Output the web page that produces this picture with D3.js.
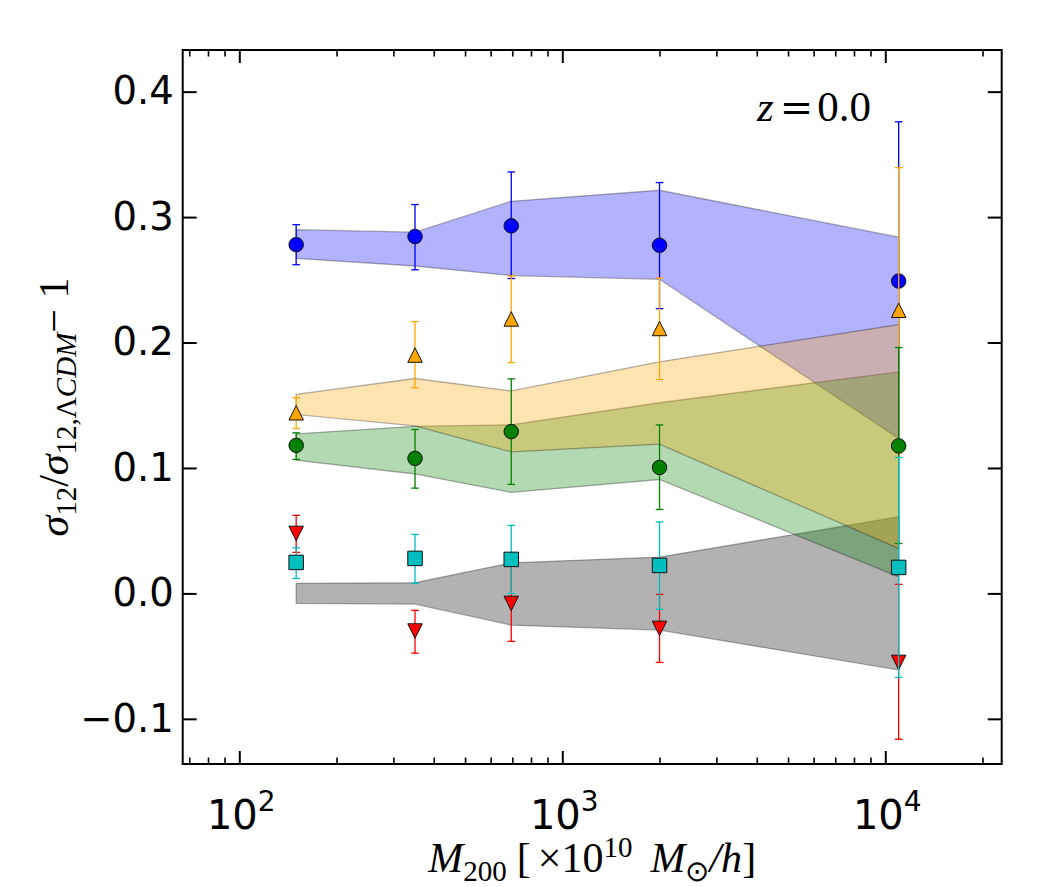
<!DOCTYPE html>
<html>
<head>
<meta charset="utf-8">
<script src="https://cdn.jsdelivr.net/npm/d3@7"></script>
<style>
  body { margin: 0; background: #fff; }
</style>
</head>
<body>
<svg id="chart"></svg>
<script>
// halo mass bins (x10^10 Msun/h)
const masses = [150, 350, 695, 2000, 11000];

// point series: value, upper and lower end of the error bar
const blueY = [0.278, 0.2845, 0.293, 0.2775, 0.249];
const blueHi = [0.294, 0.310, 0.336, 0.3275, 0.376];
const blueLo = [0.262, 0.258, 0.251, 0.227, 0.122];

const orangeY = [0.144, 0.190, 0.2188, 0.2112, 0.2257];
const orangeHi = [0.156, 0.2167, 0.253, 0.2515, 0.3394];
const orangeLo = [0.1315, 0.164, 0.184, 0.1705, 0.112];

const greenY = [0.118, 0.1076, 0.129, 0.1004, 0.1176];
const greenHi = [0.128, 0.1307, 0.171, 0.1343, 0.196];
const greenLo = [0.1068, 0.0839, 0.0869, 0.0669, 0.0398];

const redY = [0.0478, -0.030, -0.008, -0.0279, -0.055];
const redHi = [0.0622, -0.0135, 0.022, -0.0008, 0.0072];
const redLo = [0.0327, -0.0476, -0.0382, -0.055, -0.1163];

const cyanY = [0.0247, 0.0279, 0.0271, 0.0223, 0.0207];
const cyanHi = [0.0363, 0.047, 0.0542, 0.057, 0.1084];
const cyanLo = [0.012, 0.008, 0.0, -0.0127, -0.0669];

// shaded bands (upper / lower edge)
const blueBandUp = [0.290, 0.288, 0.3126, 0.3214, 0.284];
const blueBandLo = [0.267, 0.261, 0.2534, 0.2504, 0.1235];
const greenBandUp = [0.1272, 0.1332, 0.1344, 0.152, 0.1766];
const greenBandLo = [0.1062, 0.0952, 0.0805, 0.0908, 0.0132];
const orangeBandUp = [0.1586, 0.1713, 0.1614, 0.1846, 0.2143];
const orangeBandLo = [0.1426, 0.1336, 0.1128, 0.119, 0.0358];
const grayBandUp = [0.008, 0.0085, 0.0244, 0.029, 0.061];
const grayBandLo = [-0.008, -0.0085, -0.0253, -0.0292, -0.0611];

// ticks
const yTicks = [-0.1, 0.0, 0.1, 0.2, 0.3, 0.4];
const xMajor = [100, 1000, 10000];
const xExp = ["2", "3", "4"];
const xMinor = [70, 80, 90, 200, 300, 400, 500, 600, 700, 800, 900,
  2000, 3000, 4000, 5000, 6000, 7000, 8000, 9000, 20000];

const width = 1055, height = 887;
const plotL = 182.7, plotR = 1001.7, plotT = 50, plotB = 764;

const svg = d3.select("#chart")
    .attr("width", width)
    .attr("height", height);

const x = d3.scaleLog().domain([66.8, 22930]).range([plotL, plotR]);
const y = d3.scaleLinear().domain([-0.136, 0.4332]).range([plotB, plotT]);

// bands
const bands = [
    { up: grayBandUp, lo: grayBandLo, color: "#000000" },
    { up: blueBandUp, lo: blueBandLo, color: "#0000ff" },
    { up: greenBandUp, lo: greenBandLo, color: "#008000" },
    { up: orangeBandUp, lo: orangeBandLo, color: "#ffa500" }
];

const area = d3.area()
    .x(d => x(d.m))
    .y0(d => y(d.lo))
    .y1(d => y(d.up));

bands.forEach(b => {
    const rows = masses.map((m, i) => ({ m: m, up: b.up[i], lo: b.lo[i] }));
    svg.append("path")
        .datum(rows)
        .attr("d", area)
        .attr("fill", b.color)
        .attr("fill-opacity", 0.3)
        .attr("stroke", "#000")
        .attr("stroke-opacity", 0.3)
        .attr("stroke-width", 1.3);
});

// point series
const series = [
    { v: blueY, hi: blueHi, lo: blueLo, color: "#0000ff", shape: "circle" },
    { v: orangeY, hi: orangeHi, lo: orangeLo, color: "#ffa500", shape: "up" },
    { v: greenY, hi: greenHi, lo: greenLo, color: "#008000", shape: "circle" },
    { v: redY, hi: redHi, lo: redLo, color: "#ff0000", shape: "down" },
    { v: cyanY, hi: cyanHi, lo: cyanLo, color: "#00bfbf", shape: "square" }
];

const ms = 14.5;   // marker size in px
const cap = 3.8;

function markerPath(shape) {
    const h = ms / 2;
    if (shape === "up") return `M0,${-h}L${h},${h}L${-h},${h}Z`;
    if (shape === "down") return `M0,${h}L${h},${-h}L${-h},${-h}Z`;
    if (shape === "square") return `M${-h},${-h}H${h}V${h}H${-h}Z`;
    return null;
}

series.forEach(s => {
    const rows = masses.map((m, i) => ({ m: m, v: s.v[i], hi: s.hi[i], lo: s.lo[i] }));
    const g = svg.append("g");

    const eb = g.selectAll(".eb").data(rows).enter().append("g")
        .attr("stroke", s.color)
        .attr("stroke-width", 1.3);
    eb.append("line")
        .attr("x1", d => x(d.m)).attr("x2", d => x(d.m))
        .attr("y1", d => y(d.hi)).attr("y2", d => y(d.lo));
    eb.append("line")
        .attr("x1", d => x(d.m) - cap).attr("x2", d => x(d.m) + cap)
        .attr("y1", d => y(d.hi)).attr("y2", d => y(d.hi));
    eb.append("line")
        .attr("x1", d => x(d.m) - cap).attr("x2", d => x(d.m) + cap)
        .attr("y1", d => y(d.lo)).attr("y2", d => y(d.lo));

    if (s.shape === "circle") {
        g.selectAll(".mk").data(rows).enter().append("circle")
            .attr("cx", d => x(d.m))
            .attr("cy", d => y(d.v))
            .attr("r", ms / 2)
            .attr("fill", s.color)
            .attr("stroke", "#111")
            .attr("stroke-width", 1);
    } else {
        g.selectAll(".mk").data(rows).enter().append("path")
            .attr("transform", d => `translate(${x(d.m)},${y(d.v)})`)
            .attr("d", markerPath(s.shape))
            .attr("fill", s.color)
            .attr("stroke", "#111")
            .attr("stroke-width", 1);
    }
});

// axes, ticks pointing inward on all sides
function styleAxis(g) {
    g.select(".domain").remove();
    g.selectAll(".tick line").attr("stroke", "#000");
}

svg.append("g")
    .attr("transform", `translate(0,${plotB})`)
    .call(d3.axisBottom(x).tickValues(xMajor).tickSize(-13).tickFormat(""))
    .call(styleAxis)
    .selectAll(".tick line").attr("stroke-width", 2);
svg.append("g")
    .attr("transform", `translate(0,${plotB})`)
    .call(d3.axisBottom(x).tickValues(xMinor).tickSize(-6.5).tickFormat(""))
    .call(styleAxis)
    .selectAll(".tick line").attr("stroke-width", 1.6);
svg.append("g")
    .attr("transform", `translate(0,${plotT})`)
    .call(d3.axisTop(x).tickValues(xMajor).tickSize(-13).tickFormat(""))
    .call(styleAxis)
    .selectAll(".tick line").attr("stroke-width", 2);
svg.append("g")
    .attr("transform", `translate(0,${plotT})`)
    .call(d3.axisTop(x).tickValues(xMinor).tickSize(-6.5).tickFormat(""))
    .call(styleAxis)
    .selectAll(".tick line").attr("stroke-width", 1.6);

const yAxis = svg.append("g")
    .attr("transform", `translate(${plotL},0)`)
    .call(d3.axisLeft(y).tickValues(yTicks).tickSize(-14).tickPadding(9).tickFormat(d3.format(".1f")))
    .call(styleAxis);
yAxis.selectAll(".tick line").attr("stroke-width", 2);
yAxis.attr("font-size", null).attr("font-family", null);
yAxis.selectAll("text")
    .attr("font-family", "DejaVu Sans")
    .attr("font-size", 38.5)
    .attr("fill", "#000");

svg.append("g")
    .attr("transform", `translate(${plotR},0)`)
    .call(d3.axisRight(y).tickValues(yTicks).tickSize(-14).tickFormat(""))
    .call(styleAxis)
    .selectAll(".tick line").attr("stroke-width", 2);

// x tick labels 10^n
const xl = svg.append("g")
    .attr("font-family", "DejaVu Sans")
    .attr("fill", "#000");
xl.selectAll("text").data(xMajor).enter().append("text")
    .attr("x", d => x(d) + 2)
    .attr("y", 829)
    .attr("text-anchor", "middle")
    .attr("font-size", 40)
    .each(function (d, i) {
        const t = d3.select(this);
        t.append("tspan").text("10");
        t.append("tspan").attr("font-size", 28).attr("dy", -18).text(xExp[i]);
    });

// frame
svg.append("rect")
    .attr("x", plotL).attr("y", plotT)
    .attr("width", plotR - plotL).attr("height", plotB - plotT)
    .attr("fill", "none")
    .attr("stroke", "#000")
    .attr("stroke-width", 2);

// annotation
const za = svg.append("text")
    .attr("x", 757).attr("y", 121)
    .attr("font-family", "Liberation Serif")
    .attr("font-size", 43)
    .attr("fill", "#000");
za.append("tspan").attr("font-style", "italic").text("z");
za.append("tspan").attr("dx", 6).attr("font-family", "DejaVu Serif").attr("font-size", 40).text("=");
za.append("tspan").attr("dx", 4).text("0.0");

// x label
const xlab = svg.append("text")
    .attr("x", (plotL + plotR) / 2).attr("y", 872)
    .attr("text-anchor", "middle")
    .attr("font-family", "Liberation Serif")
    .attr("font-size", 42)
    .attr("fill", "#000");
xlab.append("tspan").attr("font-style", "italic").text("M");
xlab.append("tspan").attr("font-size", 29).attr("dy", 9).text("200");
xlab.append("tspan").attr("dy", -9).attr("dx", 10).text("[");
xlab.append("tspan").attr("dx", 7).text("\u00d710");
xlab.append("tspan").attr("font-size", 29).attr("dy", -15).text("10");
xlab.append("tspan").attr("dy", 15).attr("dx", 18).attr("font-style", "italic").text("M");
xlab.append("tspan").attr("font-size", 29).attr("dy", 9).text("\u2299");
xlab.append("tspan").attr("dy", -9).attr("font-style", "italic").text("/h");
xlab.append("tspan").text("]");

// y label
const ylab = svg.append("text")
    .attr("transform", `translate(68,${(plotT + plotB) / 2}) rotate(-90)`)
    .attr("text-anchor", "middle")
    .attr("font-family", "Liberation Serif")
    .attr("font-size", 42)
    .attr("fill", "#000");
ylab.append("tspan").attr("font-style", "italic").text("\u03c3");
ylab.append("tspan").attr("font-size", 29).attr("dy", 8).text("12");
ylab.append("tspan").attr("dy", -8).text("/");
ylab.append("tspan").attr("font-style", "italic").text("\u03c3");
ylab.append("tspan").attr("font-size", 29).attr("dy", 8).text("12,\u039b");
ylab.append("tspan").attr("font-size", 29).attr("font-style", "italic").text("CDM");
ylab.append("tspan").attr("dy", -8).text("\u2212 1");
</script>
</body>
</html>
